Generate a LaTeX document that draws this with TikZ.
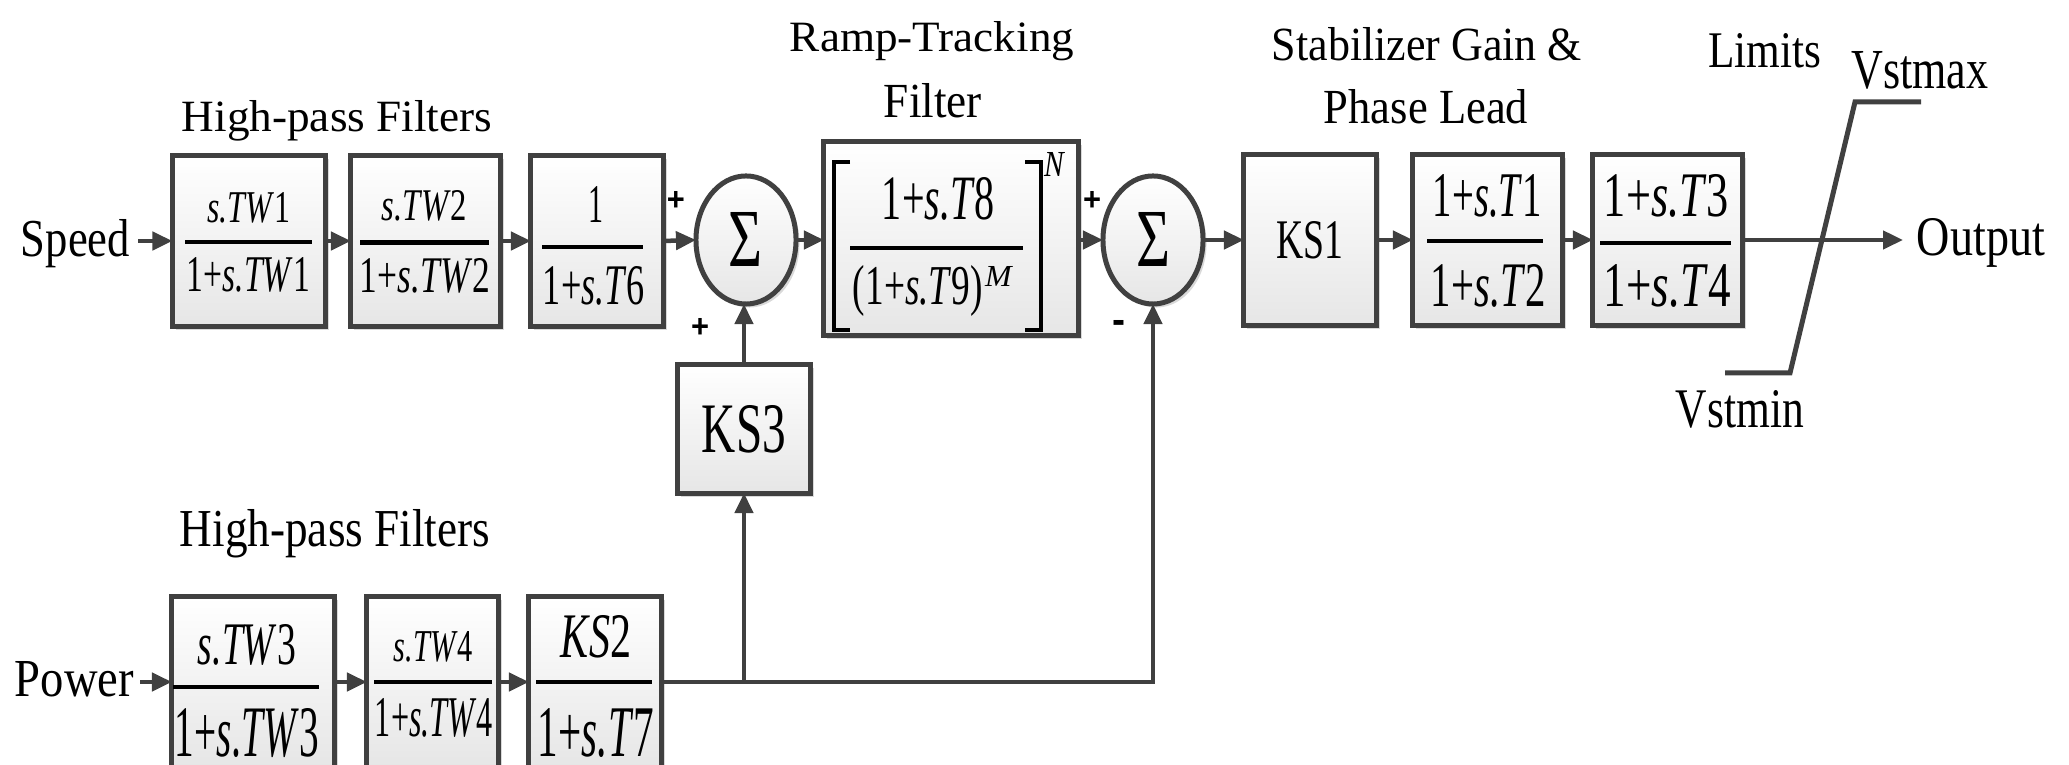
\documentclass[tikz,border=0pt]{standalone}
\usepackage{fontspec}
\setmainfont{Liberation Serif}
\newfontfamily\sgnfont{Liberation Sans}
\usepackage{graphicx}
\usetikzlibrary{arrows.meta,shapes.geometric,shadows}
\definecolor{lc}{HTML}{404040}
\definecolor{bfill}{HTML}{E6E6E6}
\newcommand\rb[3]{\resizebox{#1cm}{#2cm}{#3}}
\newcommand\rbt[3]{\resizebox*{#1cm}{#2cm}{#3}}
\begin{document}
\begin{tikzpicture}[x=0.01cm,y=-0.01cm,
  blk/.style={draw=lc, line width=0.05cm, top color=white, bottom color=bfill,
    drop shadow={shadow xshift=0.035cm, shadow yshift=-0.035cm, opacity=0.3, fill=gray},
    inner sep=0, outer sep=0},
  sumn/.style={blk, ellipse, minimum width=1.0cm, minimum height=1.28cm},
  tx/.style={inner sep=0, outer sep=0, anchor=base},
  bar/.style={line width=0.035cm, black},
  brk/.style={line width=0.04cm, black},
  ln/.style={draw=lc, line width=0.045cm, line join=miter},
  arr/.style={ln, -{Triangle[length=0.2cm,width=0.18cm]}},
  sgn/.style={inner sep=0, outer sep=0, anchor=center, font=\sgnfont\bfseries}]
\useasboundingbox (0,0) rectangle (2069,765);

% ---------- labels ----------
\node[tx] (lhp1) at (337,132) {\rb{3.10}{0.31}{High-pass Filters}};
\node[tx] (lhp2) at (335,547) {\rb{3.10}{0.37}{High-pass Filters}};
\node[tx] (lramp1) at (932,52) {\rb{2.84}{0.30}{Ramp-Tracking}};
\node[tx] (lramp2) at (933,118) {\rb{0.98}{0.34}{Filter}};
\node[tx] (lstab1) at (1427,61) {\rb{3.10}{0.33}{Stabilizer Gain \&}};
\node[tx] (lstab2) at (1426,124) {\rb{2.04}{0.34}{Phase Lead}};
\node[tx] (llim) at (1765,68) {\rb{1.13}{0.34}{Limits}};
\node[tx] (lvmax) at (1920,89) {\rb{1.37}{0.37}{Vstmax}};
\node[tx] (lvmin) at (1740,428) {\rb{1.28}{0.37}{Vstmin}};
\node[tx] (speed) at (75.5,257) {\rb{1.09}{0.37}{Speed}};
\node[tx] (power) at (74.5,697) {\rb{1.19}{0.35}{Power}};
\node[tx] (output) at (1981,256) {\rb{1.28}{0.37}{Output}};

% ---------- top row blocks ----------
\node[blk, minimum width=1.53cm, minimum height=1.70cm] (b1) at (249,241) {};
\node[tx] (b1n) at (249,223) {\rb{0.83}{0.30}{\textit{s.TW}1}};
\node[tx] (b1d) at (248.5,292) {\rb{1.23}{0.34}{1+\textit{s.TW}1}};
\draw[bar] (185,242) -- (312,242);

\node[blk, minimum width=1.49cm, minimum height=1.70cm] (b2) at (425.5,241) {};
\node[tx] (b2n) at (424.5,221) {\rb{0.85}{0.30}{\textit{s.TW}2}};
\node[tx] (b2d) at (425,293) {\rb{1.30}{0.34}{1+\textit{s.TW}2}};
\draw[bar, line width=0.05cm] (360,243) -- (489,243);

\node[blk, minimum width=1.32cm, minimum height=1.70cm] (b3) at (597,241) {};
\node[tx] (b3n) at (596,223) {\rb{0.15}{0.36}{1}};
\node[tx] (b3d) at (594,305) {\rb{1.02}{0.38}{1+\textit{s.T}6}};
\draw[bar, line width=0.045cm] (542,247) -- (643,247);

\node[sumn] (s1) at (746,240) {\rb{0.34}{0.54}{Σ}};

\node[blk, minimum width=2.54cm, minimum height=1.93cm] (ramp) at (951,238.5) {};
\node[tx] (rn) at (938.5,220) {\rb{1.13}{0.42}{1+\textit{s.T}8}};
\node[tx] (rd) at (918,305) {\rbt{1.30}{0.51}{(1+\textit{s.T}9)}};
\node[tx] (rm) at (999,287) {\rb{0.28}{0.20}{\textit{M}}};
\node[tx] (rnn) at (1054.5,177) {\rb{0.21}{0.24}{\textit{N}}};
\draw[bar] (850,248) -- (1023,248);
\draw[brk] (850,162) -- (834,162) -- (834,330) -- (850,330);
\draw[brk] (1025,162) -- (1041,162) -- (1041,330) -- (1025,330);

\node[sumn] (s2) at (1153,240) {\rb{0.34}{0.54}{Σ}};

\node[blk, minimum width=1.32cm, minimum height=1.70cm] (ks1) at (1310,240) {\rb{0.67}{0.37}{KS1}};

\node[blk, minimum width=1.49cm, minimum height=1.70cm] (t1) at (1487.5,240) {};
\node[tx] (t1n) at (1487.5,217) {\rb{1.09}{0.42}{1+\textit{s.T}1}};
\node[tx] (t1d) at (1488.5,307) {\rb{1.15}{0.42}{1+\textit{s.T}2}};
\draw[bar] (1427,241) -- (1543,241);

\node[blk, minimum width=1.49cm, minimum height=1.70cm] (t3) at (1667.5,240) {};
\node[tx] (t3n) at (1666.5,217) {\rb{1.25}{0.42}{1+\textit{s.T}3}};
\node[tx] (t3d) at (1667.5,307) {\rb{1.27}{0.42}{1+\textit{s.T}4}};
\draw[bar, line width=0.045cm] (1600,243) -- (1731,243);

\node[blk, minimum width=1.32cm, minimum height=1.28cm] (ks3) at (744,429) {\rb{0.84}{0.47}{KS3}};

% ---------- bottom row blocks ----------
\node[blk, minimum width=1.62cm, minimum height=1.70cm] (tw3) at (253,682) {};
\node[tx] (tw3n) at (247,665) {\rb{0.98}{0.40}{\textit{s.TW}3}};
\node[tx] (tw3d) at (247,757) {\rb{1.44}{0.48}{1+\textit{s.TW}3}};
\draw[bar, line width=0.045cm] (173,687) -- (319,687);

\node[blk, minimum width=1.31cm, minimum height=1.70cm] (tw4) at (432.5,682) {};
\node[tx] (tw4n) at (433.5,662) {\rb{0.79}{0.30}{\textit{s.TW}4}};
\node[tx] (tw4d) at (434,737) {\rb{1.18}{0.38}{1+\textit{s.TW}4}};
\draw[bar, line width=0.045cm] (374,682) -- (492,682);

\node[blk, minimum width=1.32cm, minimum height=1.70cm] (ks2) at (595,682) {};
\node[tx] (ks2n) at (596,658) {\rb{0.70}{0.42}{\textit{KS}2}};
\node[tx] (ks2d) at (596,757) {\rb{1.16}{0.48}{1+\textit{s.T}7}};
\draw[bar, line width=0.045cm] (536,682) -- (652,682);

% ---------- signs ----------
\node[sgn] (p1) at (676,201) {\rb{0.18}{0.19}{+}};
\node[sgn] (p2) at (700,328) {\rb{0.18}{0.19}{+}};
\node[sgn] (p3) at (1092,201) {\rb{0.18}{0.19}{+}};
\node[sgn] (m1) at (1119,327) {\rb{0.13}{0.13}{-}};

% ---------- connectors ----------
\draw[arr] (b1.west -| speed.east) ++(8,0) -- (b1.west);
\draw[arr] (b1.east) -- (b2.west);
\draw[arr] (b2.east) -- (b3.west);
\draw[arr] (b3.east) -- (s1.west);
\draw[arr] (s1.east) -- (ramp.west |- s1.east);
\draw[arr] (ramp.east |- s2.west) -- (s2.west);
\draw[arr] (s2.east) -- (ks1.west);
\draw[arr] (ks1.east) -- (t1.west);
\draw[arr] (t1.east) -- (t3.west);
\coordinate (oend) at (1903,240);
\draw[arr] (t3.east |- oend) -- (oend);
\draw[arr] (ks3.north) -- (s1.south -| ks3.north);

\draw[arr] (tw3.west -| power.east) ++(6,0) -- (tw3.west);
\draw[arr] (tw3.east) -- (tw4.west);
\draw[arr] (tw4.east) -- (ks2.west);
\coordinate (j1) at (ks3.south |- ks2.east);
\coordinate (j2) at (s2.south |- ks2.east);
\draw[ln] (ks2.east) -- (j1);
\draw[arr] (j1) -- (ks3.south);
\draw[arr] (j1) -- (j2) -- (s2.south);

% ---------- limiter ----------
\draw[ln, line width=0.05cm] (1725,373) -- (1790,373) -- (1855,102) -- (1921,102);
\end{tikzpicture}
\end{document}
